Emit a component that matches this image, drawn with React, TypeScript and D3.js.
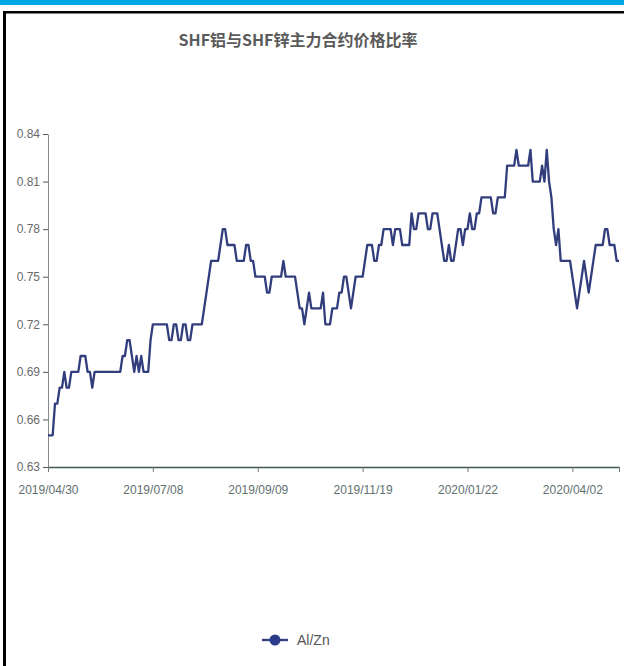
import React, { useEffect, useRef } from 'react';
import * as d3 from 'd3';

// Al/Zn ratio, one value per trading day
const ratio = [
  0.65, 0.65, 0.65, 0.67, 0.67, 0.68, 0.68, 0.69, 0.68, 0.68,
  0.69, 0.69, 0.69, 0.69, 0.70, 0.70, 0.70, 0.69, 0.69, 0.68,
  0.69, 0.69, 0.69, 0.69, 0.69, 0.69, 0.69, 0.69, 0.69, 0.69,
  0.69, 0.69, 0.70, 0.70, 0.71, 0.71, 0.70, 0.69, 0.70, 0.69,
  0.70, 0.69, 0.69, 0.69, 0.71, 0.72, 0.72, 0.72, 0.72, 0.72,
  0.72, 0.72, 0.71, 0.71, 0.72, 0.72, 0.71, 0.71, 0.72, 0.72,
  0.71, 0.71, 0.72, 0.72, 0.72, 0.72, 0.72, 0.73, 0.74, 0.75,
  0.76, 0.76, 0.76, 0.76, 0.77, 0.78, 0.78, 0.77, 0.77, 0.77,
  0.77, 0.76, 0.76, 0.76, 0.76, 0.77, 0.77, 0.76, 0.76, 0.75,
  0.75, 0.75, 0.75, 0.75, 0.74, 0.74, 0.75, 0.75, 0.75, 0.75,
  0.75, 0.76, 0.75, 0.75, 0.75, 0.75, 0.75, 0.74, 0.73, 0.73,
  0.72, 0.73, 0.74, 0.73, 0.73, 0.73, 0.73, 0.73, 0.74, 0.72,
  0.72, 0.72, 0.73, 0.73, 0.73, 0.74, 0.74, 0.75, 0.75, 0.74,
  0.73, 0.74, 0.75, 0.75, 0.75, 0.75, 0.76, 0.77, 0.77, 0.77,
  0.76, 0.76, 0.77, 0.77, 0.78, 0.78, 0.78, 0.78, 0.77, 0.78,
  0.78, 0.78, 0.77, 0.77, 0.77, 0.77, 0.79, 0.78, 0.78, 0.79,
  0.79, 0.79, 0.79, 0.78, 0.78, 0.79, 0.79, 0.79, 0.78, 0.77,
  0.76, 0.76, 0.77, 0.76, 0.76, 0.77, 0.78, 0.78, 0.77, 0.78,
  0.78, 0.79, 0.78, 0.78, 0.79, 0.79, 0.80, 0.80, 0.80, 0.80,
  0.80, 0.79, 0.79, 0.80, 0.80, 0.80, 0.80, 0.82, 0.82, 0.82,
  0.82, 0.83, 0.82, 0.82, 0.82, 0.82, 0.82, 0.83, 0.81, 0.81,
  0.81, 0.81, 0.82, 0.81, 0.83, 0.81, 0.80, 0.78, 0.77, 0.78,
  0.76, 0.76, 0.76, 0.76, 0.76, 0.75, 0.74, 0.73, 0.74, 0.75,
  0.76, 0.75, 0.74, 0.75, 0.76, 0.77, 0.77, 0.77, 0.77, 0.78,
  0.78, 0.77, 0.77, 0.77, 0.76, 0.76,
];

// category ticks every 45 trading days
const xTickIndex = [0, 45, 90, 135, 180, 225];
const xTickLabels = ['2019/04/30', '2019/07/08', '2019/09/09', '2019/11/19', '2020/01/22', '2020/04/02'];
const yTicks = [0.63, 0.66, 0.69, 0.72, 0.75, 0.78, 0.81, 0.84];

const title = 'SHF铝与SHF锌主力合约价格比率';
const seriesName = 'Al/Zn';

const W = 624;
const H = 666;
const LINE_COLOR = '#323e7c';

export default function App() {
  const svgRef = useRef<SVGSVGElement>(null);

  useEffect(() => {
    document.body.style.margin = '0';
    if (!svgRef.current) return;

    const svg = d3.select(svgRef.current);
    svg.selectAll('*').remove();

    const left = 48;
    const right = 619;
    const top = 134;
    const bottom = 467;

    // frame
    svg.append('rect').attr('x', 0).attr('y', 0).attr('width', W).attr('height', 5).attr('fill', '#00a6e6');
    svg.append('rect').attr('x', 3).attr('y', 11).attr('width', W - 3).attr('height', 2.5).attr('fill', '#000');
    svg.append('rect').attr('x', 3).attr('y', 11).attr('width', 3).attr('height', H - 11).attr('fill', '#000');

    // title
    svg.append('text')
      .attr('x', 298)
      .attr('y', 46)
      .attr('text-anchor', 'middle')
      .attr('font-family', '"Noto Sans CJK SC", sans-serif')
      .attr('font-weight', 'bold')
      .attr('font-size', 16)
      .attr('fill', '#5a5a5a')
      .text(title);

    const x = d3.scaleLinear().domain([0, ratio.length - 1]).range([left, right]);
    const y = d3.scaleLinear().domain([0.63, 0.84]).range([bottom, top]);

    // y axis
    const yAxis = svg.append('g')
      .attr('transform', `translate(${left},0)`)
      .call(d3.axisLeft(y).tickValues(yTicks).tickFormat(d3.format('.2f')).tickSize(5).tickSizeOuter(0));
    yAxis.select('.domain').attr('stroke', '#8a8a8a');
    yAxis.selectAll('line').attr('stroke', '#555');
    yAxis.selectAll('text')
      .attr('fill', '#6a6a6a')
      .attr('font-size', 12)
      .attr('font-family', '"Liberation Sans", Arial, sans-serif');

    // x axis
    const xAxis = svg.append('g')
      .attr('transform', `translate(0,${bottom})`)
      .call(
        d3.axisBottom(x)
          .tickValues([...xTickIndex, ratio.length - 1])
          .tickFormat((d, i) => xTickLabels[i] ?? '')
          .tickSize(5)
          .tickSizeOuter(0)
      );
    xAxis.select('.domain').attr('stroke', '#3f5858').attr('stroke-width', 1.3);
    xAxis.selectAll('line').attr('stroke', '#777');
    xAxis.selectAll('text')
      .attr('dy', '1.6em')
      .attr('fill', '#5f7070')
      .attr('font-size', 12)
      .attr('font-family', '"Liberation Sans", Arial, sans-serif');

    // series line
    const line = d3.line<number>()
      .x((_, i) => x(i))
      .y(d => y(d));

    svg.append('path')
      .datum(ratio)
      .attr('fill', 'none')
      .attr('stroke', LINE_COLOR)
      .attr('stroke-width', 2.3)
      .attr('stroke-linejoin', 'round')
      .attr('d', line);

    // legend
    const lg = svg.append('g').attr('transform', 'translate(262,640)');
    lg.append('line').attr('x1', 0).attr('x2', 26).attr('y1', 0).attr('y2', 0)
      .attr('stroke', LINE_COLOR).attr('stroke-width', 2.3);
    lg.append('circle').attr('cx', 13).attr('cy', 0).attr('r', 5.5).attr('fill', '#2c3a8a');
    lg.append('text')
      .attr('x', 35)
      .attr('y', 5)
      .attr('font-size', 14)
      .attr('fill', '#555')
      .attr('font-family', '"Liberation Sans", Arial, sans-serif')
      .text(seriesName);
  }, []);

  return <svg ref={svgRef} width={W} height={H} style={{ display: 'block' }} />;
}
